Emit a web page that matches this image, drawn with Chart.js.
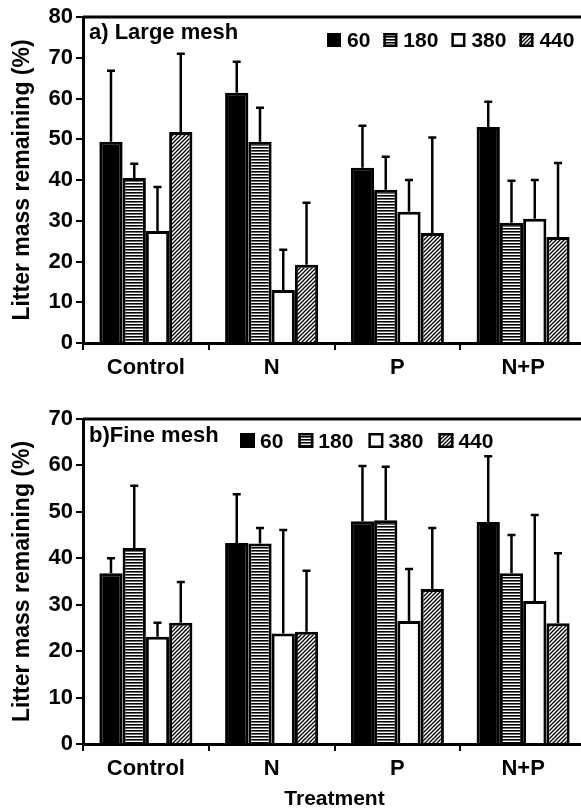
<!DOCTYPE html>
<html>
<head>
<meta charset="utf-8">
<script src="https://cdn.jsdelivr.net/npm/chart.js@4"></script>
<style>
  body { margin: 0; background: #fff; overflow: hidden; width: 581px; height: 812px; }
  canvas { display: block; }
</style>
</head>
<body>
<canvas id="largeChart" width="586" height="400"></canvas>
<canvas id="fineChart" width="586" height="412"></canvas>
<script>
const categories = ['Control', 'N', 'P', 'N+P'];
const seriesLabels = ['60', '180', '380', '440'];

// a) large mesh: means and top of error bar
const large60 = [49.4, 61.4, 43.0, 53.0];
const large60Upper = [66.8, 69.0, 53.3, 59.2];
const large180 = [40.5, 49.4, 37.6, 29.5];
const large180Upper = [44.0, 57.7, 45.7, 39.8];
const large380 = [27.5, 13.0, 32.2, 30.5];
const large380Upper = [38.3, 22.9, 40.0, 40.0];
const large440 = [51.8, 19.2, 27.0, 26.0];
const large440Upper = [71.0, 34.4, 50.4, 44.2];

// b) fine mesh
const fine60 = [36.8, 43.3, 48.0, 47.8];
const fine60Upper = [40.0, 53.8, 59.9, 62.0];
const fine180 = [42.2, 43.2, 48.2, 36.8];
const fine180Upper = [55.6, 46.5, 59.7, 45.0];
const fine380 = [23.1, 23.8, 26.5, 30.8];
const fine380Upper = [26.1, 46.1, 37.7, 49.3];
const fine440 = [26.1, 24.2, 33.4, 26.0];
const fine440Upper = [34.9, 37.3, 46.5, 41.1];

const FONT = '"Liberation Sans", Arial, sans-serif';
Chart.defaults.font.family = FONT;
Chart.defaults.color = '#000';

function stripes() {
  const c = document.createElement('canvas');
  c.width = 4; c.height = 3;
  const g = c.getContext('2d');
  g.fillStyle = '#000'; g.fillRect(0, 0, 4, 1);
  g.fillStyle = '#6a6a6a'; g.fillRect(0, 1, 4, 1);
  g.fillStyle = '#fff'; g.fillRect(0, 2, 4, 1);
  return g.createPattern(c, 'repeat');
}

function hatch() {
  const c = document.createElement('canvas');
  c.width = 4; c.height = 4;
  const g = c.getContext('2d');
  g.fillStyle = '#fff'; g.fillRect(0, 0, 4, 4);
  g.strokeStyle = '#000'; g.lineWidth = 1.3;
  g.beginPath();
  g.moveTo(0, 4); g.lineTo(4, 0);
  g.moveTo(-1, 1); g.lineTo(1, -1);
  g.moveTo(3, 5); g.lineTo(5, 3);
  g.stroke();
  return g.createPattern(c, 'repeat');
}

const fills = ['#000', stripes(), '#fff', hatch()];

// error bars, top frame line, legend and panel label
const extras = {
  id: 'extras',
  afterDatasetsDraw(chart, args, opts) {
    const ctx = chart.ctx;
    const y = chart.scales.y;
    const area = chart.chartArea;
    ctx.save();
    ctx.strokeStyle = '#000';
    ctx.lineWidth = 2.5;
    chart.data.datasets.forEach((ds, i) => {
      chart.getDatasetMeta(i).data.forEach((bar, j) => {
        const top = y.getPixelForValue(ds.upper[j]);
        ctx.beginPath();
        ctx.moveTo(bar.x, bar.y);
        ctx.lineTo(bar.x, top);
        ctx.moveTo(bar.x - 4, top);
        ctx.lineTo(bar.x + 4, top);
        ctx.stroke();
      });
    });

    ctx.lineWidth = 3;
    ctx.beginPath();
    ctx.moveTo(area.left, area.top);
    ctx.lineTo(chart.width, area.top);
    ctx.stroke();

    ctx.font = 'bold 22px ' + FONT;
    ctx.fillStyle = '#000';
    ctx.textBaseline = 'alphabetic';
    ctx.fillText(opts.panel, area.left + 6, opts.panelY);

    ctx.font = 'bold 21px ' + FONT;
    let x = opts.legendX;
    const by = opts.legendY;
    const s = opts.box;
    chart.data.datasets.forEach(ds => {
      ctx.fillStyle = ds.backgroundColor;
      ctx.fillRect(x, by, s, s);
      ctx.lineWidth = 2.5;
      ctx.strokeRect(x + 1.25, by + 1.25, s - 2.5, s - 2.5);
      x += s + opts.gap;
      ctx.fillStyle = '#000';
      ctx.fillText(ds.label, x, by + s);
      x += ctx.measureText(ds.label).width + opts.space;
    });
    ctx.restore();
  }
};

function makeChart(id, values, uppers, yMax, xHeight, padTop, extraOpts, xTitle) {
  new Chart(document.getElementById(id), {
    type: 'bar',
    data: {
      labels: categories,
      datasets: seriesLabels.map((lab, i) => ({
        label: lab,
        data: values[i],
        upper: uppers[i],
        backgroundColor: fills[i],
        borderColor: '#000',
        borderWidth: 3,
        categoryPercentage: 0.74,
        barPercentage: 1.0
      }))
    },
    options: {
      responsive: false,
      animation: false,
      devicePixelRatio: 1,
      layout: { padding: { top: padTop, left: 0, right: 0, bottom: 0 } },
      plugins: {
        legend: { display: false },
        tooltip: { enabled: false },
        extras: extraOpts
      },
      scales: {
        x: {
          afterFit: s => { s.height = xHeight; },
          grid: { offset: true, drawOnChartArea: false, tickLength: 7, color: '#000', lineWidth: 2 },
          border: { display: true, color: '#000', width: 3 },
          ticks: { font: { size: 22, weight: 'bold' }, padding: 5, color: '#000' },
          title: { display: !!xTitle, text: xTitle || '', font: { size: 21, weight: 'bold' }, padding: 0, color: '#000' }
        },
        y: {
          min: 0,
          max: yMax,
          afterFit: s => { s.width = 83; },
          grid: { drawOnChartArea: false, tickLength: 7, color: '#000', lineWidth: 2 },
          border: { display: true, color: '#000', width: 3 },
          ticks: { stepSize: 10, font: { size: 22, weight: 'bold' }, padding: 3, color: '#000' },
          title: { display: true, text: 'Litter mass remaining (%)', font: { size: 23, weight: 'bold' }, padding: { top: 9 }, color: '#000' }
        }
      }
    },
    plugins: [extras]
  });
}

makeChart('largeChart',
  [large60, large180, large380, large440],
  [large60Upper, large180Upper, large380Upper, large440Upper],
  80, 57, 17,
  { panel: 'a) Large mesh', panelY: 39, legendX: 327, legendY: 33, box: 14, gap: 6, space: 13 },
  null);

makeChart('fineChart',
  [fine60, fine180, fine380, fine440],
  [fine60Upper, fine180Upper, fine380Upper, fine440Upper],
  70, 68, 19,
  { panel: 'b)Fine mesh', panelY: 42, legendX: 240, legendY: 33, box: 15, gap: 5, space: 15 },
  'Treatment');
</script>
</body>
</html>
